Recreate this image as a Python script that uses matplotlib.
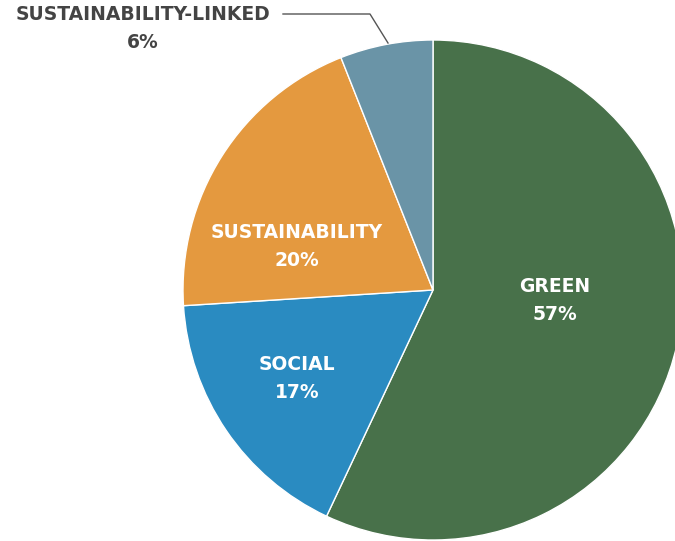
import matplotlib
matplotlib.use("Agg")
import matplotlib.pyplot as plt

categories = ["GREEN", "SOCIAL", "SUSTAINABILITY", "SUSTAINABILITY-LINKED"]
values = [57, 17, 20, 6]
colors = ["#48714A", "#2A8BC1", "#E4993F", "#6A94A7"]

W, H = 675, 541
fig = plt.figure(figsize=(W / 100, H / 100), dpi=100)
ax = fig.add_axes([0, 0, 1, 1])

cx, cy, r = 433, H - 290, 250
wedges, _ = ax.pie(values, colors=colors, startangle=90, counterclock=False,
                   center=(cx, cy), radius=r, frame=True,
                   wedgeprops=dict(edgecolor="white", linewidth=1.0))
ax.set_xlim(0, W)
ax.set_ylim(0, H)
ax.set_aspect("equal")
ax.axis("off")

font = dict(family=["DejaVu Sans"], fontweight="bold", fontsize=13.5)
inside = {0: (555, 287), 1: (297, 365), 2: (297, 233)}
for i, (x, y) in inside.items():
    ax.text(x, H - y, categories[i], color="white", ha="center", va="center", **font)
    ax.text(x, H - y - 27, f"{values[i]}%", color="white", ha="center", va="center", **font)

ax.text(143, H - 15, categories[3], color="#444444", ha="center", va="center", **font)
ax.text(143, H - 42, f"{values[3]}%", color="#444444", ha="center", va="center", **font)
ax.plot([283, 370, 388], [H - 14, H - 14, H - 43], color="#555555", lw=1.0)

fig.savefig("out.png", dpi=100)
